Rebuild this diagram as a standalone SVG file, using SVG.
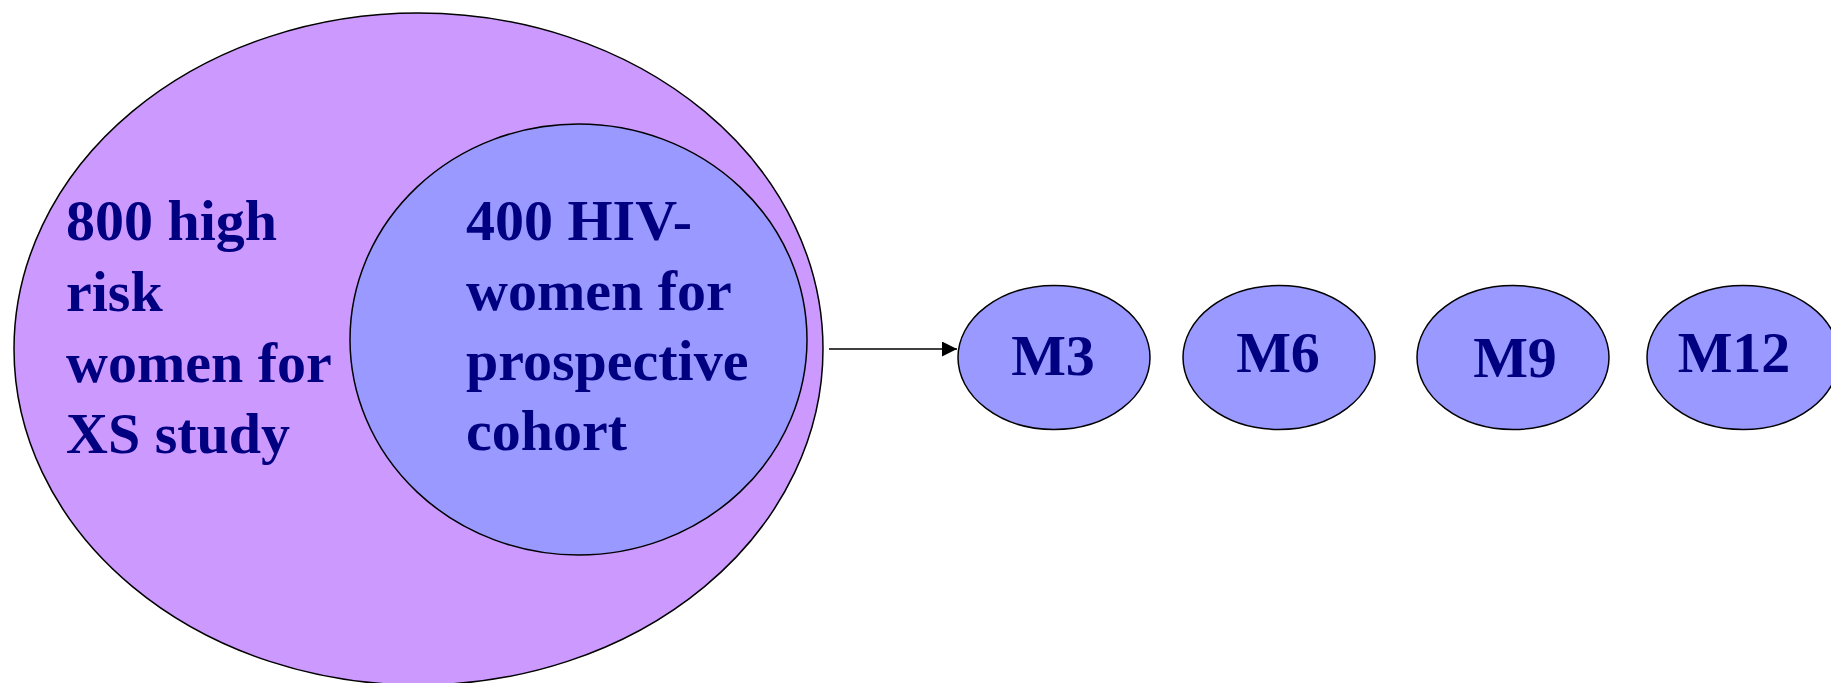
<svg xmlns="http://www.w3.org/2000/svg" width="1831" height="683" viewBox="0 0 1831 683">
<style>
.lbl{font-family:"Liberation Serif","Times New Roman",serif;font-weight:bold;font-size:58px;fill:#000080}
.node{stroke:#000;stroke-width:1.5}
.m{fill:#9999FF}
</style>
<defs>
<marker id="ah" markerWidth="16" markerHeight="16" refX="15" refY="7.5" orient="auto" markerUnits="userSpaceOnUse">
<path d="M0,0 L15,7.5 L0,15 Z" fill="#000"/>
</marker>
</defs>
<rect width="1831" height="683" fill="#fff"/>
<g id="outer">
<ellipse class="node" cx="418.5" cy="349" rx="404.5" ry="336" fill="#CC99FF"/>
<text class="lbl" x="66" y="240">800 high</text>
<text class="lbl" x="66" y="311">risk</text>
<text class="lbl" x="66" y="382">women for</text>
<text class="lbl" x="66" y="453">XS study</text>
</g>
<g id="inner">
<ellipse class="node" cx="578.5" cy="339.5" rx="228.5" ry="215.5" fill="#9999FF"/>
<text class="lbl" x="466" y="240">400 HIV-</text>
<text class="lbl" x="466" y="310">women for</text>
<text class="lbl" x="466" y="380">prospective</text>
<text class="lbl" x="466" y="450">cohort</text>
</g>
<g id="connectors">
<line x1="829" y1="349" x2="957" y2="349" stroke="#000" stroke-width="1.5" marker-end="url(#ah)"/>
</g>
<g id="m3">
<ellipse class="node m" cx="1054" cy="357.5" rx="96" ry="72"/>
<text class="lbl" x="1053" y="375" text-anchor="middle">M3</text>
</g>
<g id="m6">
<ellipse class="node m" cx="1279" cy="357.5" rx="96" ry="72"/>
<text class="lbl" x="1278" y="372" text-anchor="middle">M6</text>
</g>
<g id="m9">
<ellipse class="node m" cx="1513" cy="357.5" rx="96" ry="72"/>
<text class="lbl" x="1515" y="377" text-anchor="middle">M9</text>
</g>
<g id="m12">
<ellipse class="node m" cx="1743" cy="357.5" rx="96" ry="72"/>
<text class="lbl" x="1734" y="372" text-anchor="middle">M12</text>
</g>
</svg>
